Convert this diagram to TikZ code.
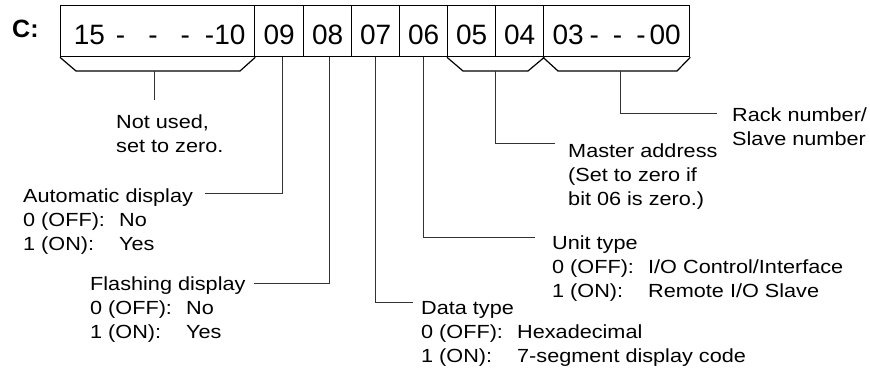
\documentclass[tikz,border=0pt]{standalone}
\usepackage{fontspec}
\setmainfont{Liberation Sans}
\newfontfamily\lblfont[FakeStretch=1.14]{Liberation Sans}
\newcommand{\twoline}[3]{\begin{tabular}[t]{@{}p{96pt}@{}l@{}}\multicolumn{2}{@{}l@{}}{#1}\\ 0 (OFF): & #2\\ 1 (ON): & #3\end{tabular}}
\begin{document}
\begin{tikzpicture}[x=1pt,y=-1pt,
  bitbox/.style={draw, line width=1.3pt, inner sep=0pt, minimum height=51pt, text height=27pt, text depth=0pt, font=\fontsize{28}{30}\selectfont, anchor=north west},
  lbl/.style={anchor=base west, inner sep=0pt, font=\lblfont\fontsize{19}{24}\selectfont},
  conn/.style={line width=1pt, draw=black!80},
  brk/.style={line width=1.2pt, line join=miter}]
\useasboundingbox (0,0) rectangle (870,370);
\node[anchor=base west, inner sep=0pt, font=\bfseries\fontsize{25}{28}\selectfont] (C) at (12,37) {C:};
\node[bitbox, minimum width=194pt] (b15) at (60,5) {\hspace{4pt}15\hspace{11pt}-\hspace{23pt}-\hspace{23pt}-\hspace{15pt}-10};
\node[bitbox, minimum width=49pt] (b09) at (254,5) {09};
\node[bitbox, minimum width=48pt] (b08) at (303,5) {08};
\node[bitbox, minimum width=48pt] (b07) at (351,5) {07};
\node[bitbox, minimum width=48pt] (b06) at (399,5) {06};
\node[bitbox, minimum width=48pt] (b05) at (447,5) {05};
\node[bitbox, minimum width=48pt] (b04) at (495,5) {04};
\node[bitbox, minimum width=146pt] (b03) at (543,5) {03\hspace{6pt}-\hspace{14pt}-\hspace{14pt}-\hspace{4pt}00};
% brackets
\coordinate (k15) at (154,71);
\coordinate (k54) at (495,71);
\coordinate (k30) at (620,71);
\draw[brk] (b15.south west) -- (76,71) -- (240,71) -- (b15.south east);
\draw[brk] (b05.south west) -- (463,71) -- (528,71) -- (b04.south east);
\draw[brk] (b03.south west) -- (558,71) -- (677,71) -- (b03.south east);
% labels
\node[lbl] (notused) at (116,128) {\begin{tabular}[t]{@{}l@{}}Not used,\\ set to zero.\end{tabular}};
\node[lbl] (auto) at (23,202) {\twoline{Automatic display}{No}{Yes}};
\node[lbl] (flash) at (90,290) {\twoline{Flashing display}{No}{Yes}};
\node[lbl] (data) at (421,314) {\twoline{Data type}{Hexadecimal}{7-segment display code}};
\node[lbl] (unit) at (552,249) {\twoline{Unit type}{I/O Control/Interface}{Remote I/O Slave}};
\node[lbl] (master) at (568,157) {\begin{tabular}[t]{@{}l@{}}Master address\\ (Set to zero if\\ bit 06 is zero.)\end{tabular}};
\node[lbl] (rack) at (732,121) {\begin{tabular}[t]{@{}l@{}}Rack number/\\ Slave number\end{tabular}};
% connector ends
\coordinate (n15) at (154,100);
\coordinate (e09) at (205,193);
\coordinate (e08) at (254,283);
\coordinate (e07) at (413,302);
\coordinate (e06) at (535,237);
\coordinate (e54) at (555,143);
\coordinate (e30) at (717,113);
% connectors
\draw[conn] (k15) -- (n15);
\draw[conn] ([xshift=3.5pt]b09.south) |- (e09);
\draw[conn] ([xshift=2pt]b08.south) |- (e08);
\draw[conn] (b07.south) |- (e07);
\draw[conn] (b06.south) |- (e06);
\draw[conn] (k54) |- (e54);
\draw[conn] (k30) |- (e30);
\end{tikzpicture}
\end{document}
